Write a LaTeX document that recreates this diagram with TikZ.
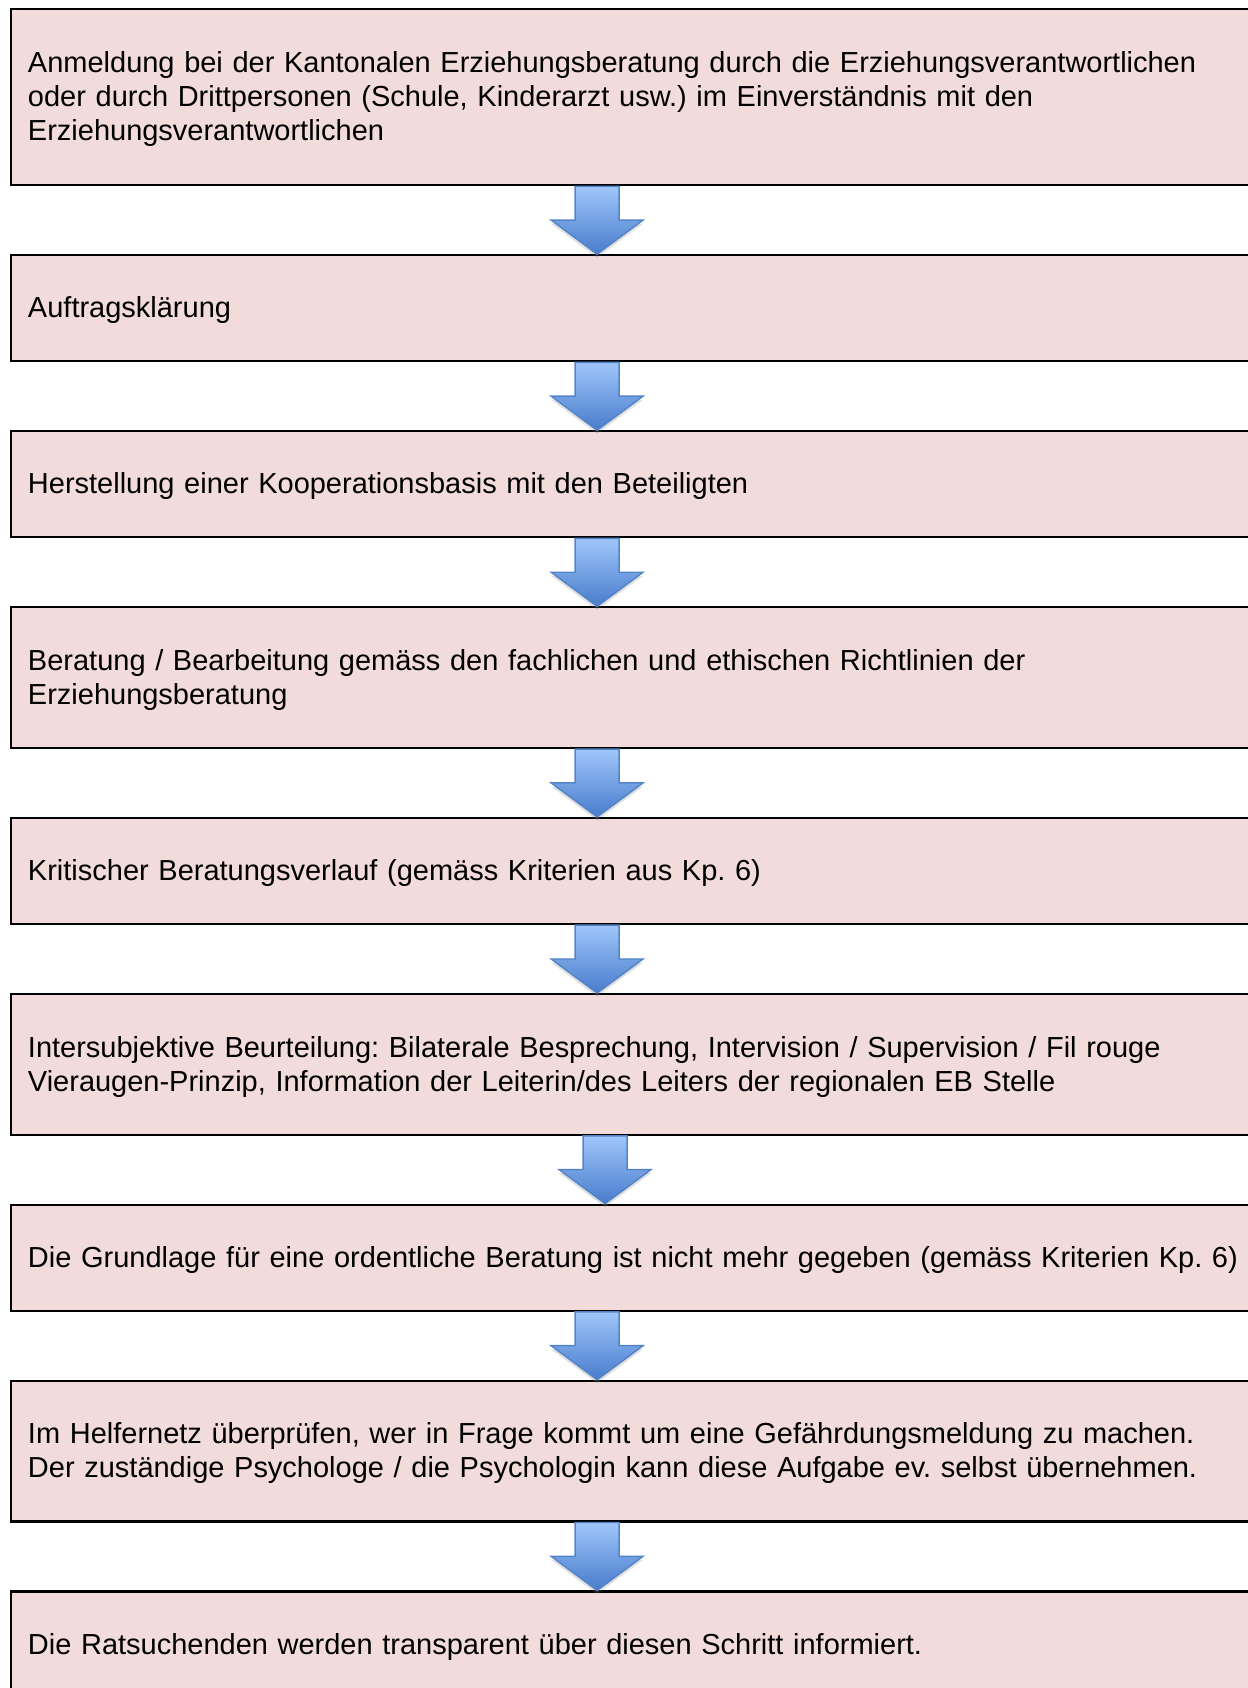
\documentclass[tikz,border=0pt]{standalone}
\usepackage{fontspec}
\setmainfont{Liberation Sans}
\usetikzlibrary{positioning, calc, shadows}

\definecolor{stagefill}{RGB}{242,220,219}
\definecolor{arrowtop}{RGB}{160,198,250}
\definecolor{arrowbot}{RGB}{72,124,204}
\definecolor{arrowline}{RGB}{84,132,200}

% block arrow from the bottom of one stage to the top of the next
\newcommand{\flowarrow}[3][247.2pt]{%
  \path[flow] let \p1=(#2.south), \p2=(#3.north) in
    ({#1-\sw},\y1) -- ({#1+\sw},\y1) -- ({#1+\sw},{\y2+\hl})
    -- ({#1+\hw},{\y2+\hl}) -- (#1,\y2) -- ({#1-\hw},{\y2+\hl})
    -- ({#1-\sw},{\y2+\hl}) -- cycle;}

\begin{document}
\frenchspacing
\begin{tikzpicture}[
    node distance=28.1pt,
    stage/.style ={draw=black, line width=0.9pt, fill=stagefill,
                   text width=506pt, inner xsep=7pt, inner ysep=0pt,
                   align=left, font=\fontsize{12}{14.1}\selectfont,
                   execute at begin node=\rule{0pt}{10.6pt},
                   execute at end node=\rule[-2.6pt]{0pt}{2.6pt}},
    oneline/.style  ={stage, minimum height=43.9pt},
    twoline/.style  ={stage, minimum height=58.2pt},
    threeline/.style={stage, minimum height=72.9pt},
    flow/.style   ={draw=arrowline, line width=0.6pt, line join=miter,
                    top color=arrowtop, bottom color=arrowbot,
                    drop shadow={shadow xshift=0pt, shadow yshift=-1.5pt,
                                 opacity=0.25}},
  ]

  %% --- common geometry --------------------------------------------------
  \def\sw{9.1pt}   % half shaft width
  \def\hw{19pt}    % half head width
  \def\hl{14.1pt}  % head length

  \useasboundingbox (0,0) rectangle (516.67pt,-698.83pt);
  \clip (0,0) rectangle (516.67pt,-698.83pt);

  %% --- stages -----------------------------------------------------------
  \node[threeline, anchor=north west] (anm) at (4.14pt,-3.31pt)
    {Anmeldung bei der Kantonalen Erziehungsberatung durch die Erziehungsverantwortlichen\\
     oder durch Drittpersonen (Schule, Kinderarzt usw.) im Einverständnis mit den\\
     Erziehungsverantwortlichen};
  \node[oneline, below=of anm] (auftrag)
    {Auftragsklärung};
  \node[oneline, below=of auftrag] (koop)
    {Herstellung einer Kooperationsbasis mit den Beteiligten};
  \node[twoline, below=of koop] (beratung)
    {Beratung / Bearbeitung gemäss den fachlichen und ethischen Richtlinien der\\
     Erziehungsberatung};
  \node[oneline, below=of beratung] (kritisch)
    {Kritischer Beratungsverlauf (gemäss Kriterien aus Kp. 6)};
  \node[twoline, below=of kritisch] (beurteilung)
    {Intersubjektive Beurteilung: Bilaterale Besprechung, Intervision / Supervision / Fil rouge\\
     Vieraugen-Prinzip, Information der Leiterin/des Leiters der regionalen EB Stelle};
  \node[oneline, below=of beurteilung] (grundlage)
    {Die Grundlage für eine ordentliche Beratung ist nicht mehr gegeben (gemäss Kriterien Kp. 6)};
  \node[twoline, below=of grundlage] (helfer)
    {Im Helfernetz überprüfen, wer in Frage kommt um eine Gefährdungsmeldung zu machen.\\
     Der zuständige Psychologe / die Psychologin kann diese Aufgabe ev. selbst übernehmen.};
  \node[oneline, below=of helfer] (info)
    {Die Ratsuchenden werden transparent über diesen Schritt informiert.};

  %% --- arrows -----------------------------------------------------------
  \flowarrow{anm}{auftrag}
  \flowarrow{auftrag}{koop}
  \flowarrow{koop}{beratung}
  \flowarrow{beratung}{kritisch}
  \flowarrow{kritisch}{beurteilung}
  \flowarrow[250.5pt]{beurteilung}{grundlage}
  \flowarrow{grundlage}{helfer}
  \flowarrow{helfer}{info}

\end{tikzpicture}
\end{document}
